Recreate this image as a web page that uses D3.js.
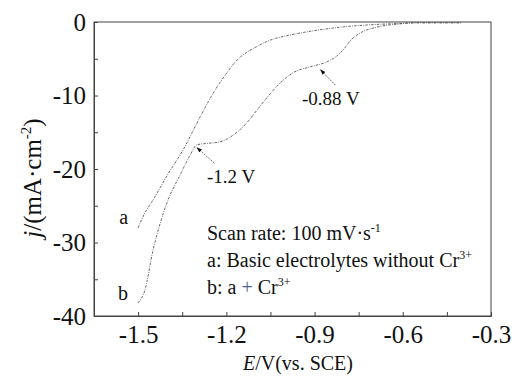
<!DOCTYPE html>
<html><head><meta charset="utf-8">
<script src="https://cdn.jsdelivr.net/npm/d3@7"></script>
<style>body{margin:0;background:#fff}svg{display:block}text{font-family:"Liberation Serif","Times New Roman",serif;fill:#111}</style>
</head><body><svg id="c" width="512" height="376"></svg>
<script>
// Data
const curveA_E = [-1.5,-1.48,-1.449,-1.40,-1.347,-1.289,-1.245,-1.198,-1.164,-1.13,-1.099,-1.065,-0.987,-0.949,-0.871,-0.80,-0.72,-0.61,-0.55,-0.4];
const curveA_j = [-28,-26.2,-24.2,-20.8,-17.4,-12.9,-9.7,-6.9,-5.2,-4.1,-3.4,-2.7,-1.8,-1.5,-1.0,-0.65,-0.4,-0.2,-0.1,-0.1];
const curveB_E = [-1.5,-1.477,-1.449,-1.425,-1.398,-1.357,-1.323,-1.30,-1.26,-1.221,-1.177,-1.13,-1.096,-1.062,-1.017,-0.973,-0.915,-0.857,-0.827,-0.803,-0.775,-0.745,-0.688,-0.609,-0.55,-0.4];
const curveB_j = [-38.2,-36.5,-31,-27.4,-24.2,-20.8,-18.1,-16.7,-16.5,-16.3,-15.4,-13.7,-12.0,-10.3,-8.3,-6.9,-6.1,-5.4,-4.7,-3.8,-2.4,-1.5,-0.7,-0.25,-0.1,-0.1];
const xTicks = [-1.5,-1.2,-0.9,-0.6,-0.3];
const xMinor = [-1.35,-1.05,-0.75,-0.45];
const yTicks = [0,-10,-20,-30,-40];
const yMinor = [-5,-15,-25,-35];
const curveLabels = [{t:"a",E:-1.5,j:-27.9},{t:"b",E:-1.5,j:-38.2}];
const annotations = [
  {text:"-1.2 V", tipE:-1.30, tipJ:-17.1, fromE:-1.241, fromJ:-19.2},
  {text:"-0.88 V", tipE:-0.880, tipJ:-6.5, fromE:-0.829, fromJ:-8.6}
];

const svg = d3.select("#c");
const L=94,R=491,T=22,B=316;
const x = d3.scaleLinear().domain([-1.65,-0.3]).range([L,R]);
const y = d3.scaleLinear().domain([-40,0]).range([B,T]);
const font='"Liberation Serif","Times New Roman",serif';

// frame
svg.append("rect").attr("x",L).attr("y",T).attr("width",R-L).attr("height",B-T)
  .attr("fill","none").attr("stroke","#444").attr("stroke-width",1);

// x axis
const xAxis = d3.axisBottom(x).tickValues(xTicks).tickSize(-4).tickFormat(d=>d.toFixed(1)).tickPadding(0);
const gx = svg.append("g").attr("transform",`translate(0,${B})`).call(xAxis);
gx.select(".domain").attr("stroke","#444");
gx.selectAll(".tick line").attr("stroke","#444");
gx.selectAll(".tick text").attr("font-size",25).attr("font-family",font).attr("fill","#111").attr("y",27).attr("dy",0);
const gxm = svg.append("g").attr("transform",`translate(0,${B})`).call(d3.axisBottom(x).tickValues(xMinor).tickSize(-4).tickFormat(""));
gxm.select(".domain").remove(); gxm.selectAll(".tick line").attr("stroke","#444");

// y axis
const yAxis = d3.axisLeft(y).tickValues(yTicks).tickSize(-4).tickFormat(d=>d).tickPadding(8);
const gy = svg.append("g").attr("transform",`translate(${L},0)`).call(yAxis);
gy.select(".domain").attr("stroke","#444");
gy.selectAll(".tick line").attr("stroke","#444");
gy.selectAll(".tick text").attr("font-size",25).attr("font-family",font).attr("fill","#111").attr("x",-8);
const gym = svg.append("g").attr("transform",`translate(${L},0)`).call(d3.axisLeft(y).tickValues(yMinor).tickSize(-4).tickFormat(""));
gym.select(".domain").remove(); gym.selectAll(".tick line").attr("stroke","#444");

// curves
const line = d3.line().x(d=>x(d[0])).y(d=>y(d[1])).curve(d3.curveMonotoneX);
[[curveA_E,curveA_j],[curveB_E,curveB_j]].forEach(([E,J])=>{
  svg.append("path").datum(E.map((e,i)=>[e,J[i]])).attr("d",line)
    .attr("fill","none").attr("stroke","#555").attr("stroke-width",0.9).attr("stroke-dasharray","2.5,1.2,0.8,1.2");
});

// curve labels
curveLabels.forEach(c=>{
  svg.append("text").attr("x",x(c.E)-10).attr("y",y(c.j)-3).attr("text-anchor","end")
    .attr("font-size",20).text(c.t);
});

// annotations with arrows
svg.append("defs").append("marker").attr("id","ah").attr("viewBox","0 0 10 10").attr("refX",9).attr("refY",5)
  .attr("markerWidth",7).attr("markerHeight",7).attr("orient","auto")
  .append("path").attr("d","M0,1.5 L10,5 L0,8.5 z").attr("fill","#111");
annotations.forEach((a,i)=>{
  svg.append("line").attr("x1",x(a.fromE)).attr("y1",y(a.fromJ)).attr("x2",x(a.tipE)).attr("y2",y(a.tipJ))
    .attr("stroke","#555").attr("stroke-width",0.8).attr("stroke-dasharray","2,1").attr("marker-end","url(#ah)");
  svg.append("text").attr("x", i===0?207:302).attr("y", i===0?183:105).attr("font-size",19).text(a.text);
});

// legend text
const lg = svg.append("g").attr("font-size",20);
const t1 = lg.append("text").attr("x",207).attr("y",240);
t1.append("tspan").text("Scan rate: 100 mV·s");
t1.append("tspan").attr("font-size",12).attr("dy",-8).text("-1");
const t2 = lg.append("text").attr("x",207).attr("y",267);
t2.append("tspan").text("a: Basic electrolytes without Cr");
t2.append("tspan").attr("font-size",12).attr("dy",-8).text("3+");
const t3 = lg.append("text").attr("x",207).attr("y",294);
t3.append("tspan").text("b: a ");
t3.append("tspan").attr("fill","#4a6090").text("+");
t3.append("tspan").text(" Cr");
t3.append("tspan").attr("font-size",12).attr("dy",-8).text("3+");

// axis titles
const xt = svg.append("text").attr("x",298).attr("y",370).attr("text-anchor","middle").attr("font-size",20);
xt.append("tspan").attr("font-style","italic").text("E");
xt.append("tspan").text("/V(vs. SCE)");
const yt = svg.append("text").attr("transform","translate(41,178) rotate(-90)").attr("text-anchor","middle").attr("font-size",25);
yt.append("tspan").attr("font-style","italic").text("j");
yt.append("tspan").text("/(mA·cm");
yt.append("tspan").attr("font-size",15).attr("dy",-10).text("-2");
yt.append("tspan").attr("dy",10).text(")");
</script></body></html>
